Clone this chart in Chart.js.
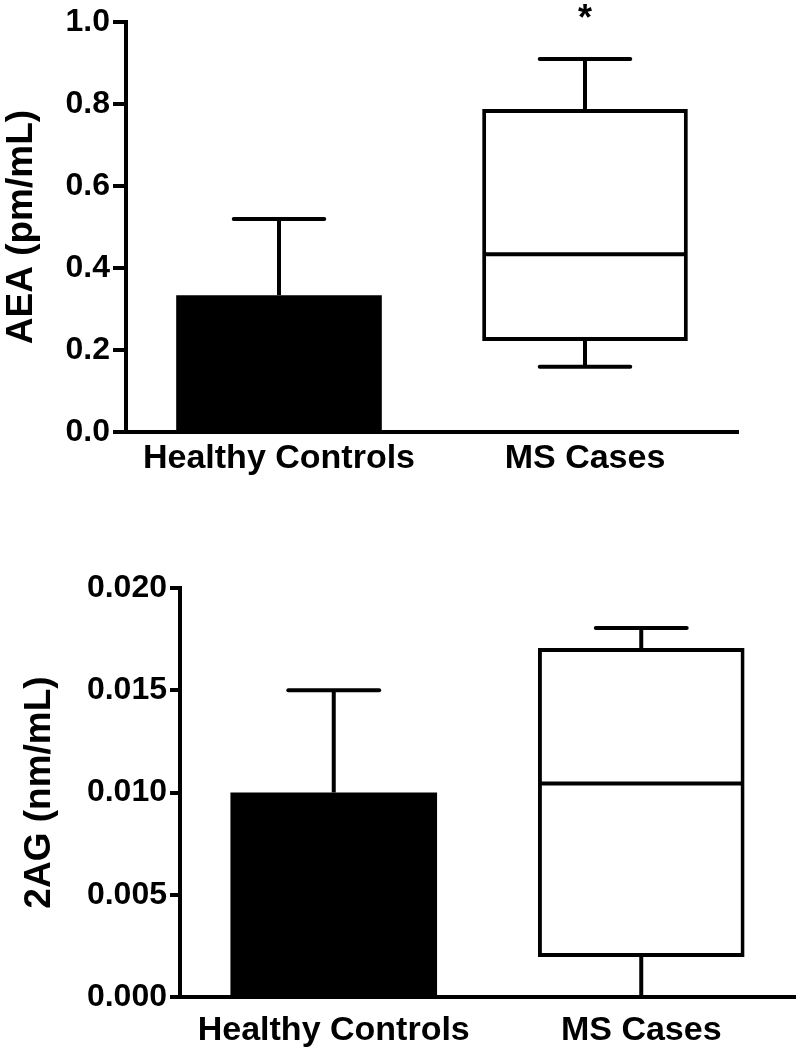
<!DOCTYPE html>
<html>
<head>
<meta charset="utf-8">
<script src="https://cdn.jsdelivr.net/npm/chart.js@4.4.0/dist/chart.umd.min.js"></script>
<style>
  html, body { margin: 0; padding: 0; background: #fff; }
  #wrap { position: relative; width: 796px; height: 1050px; }
  #chartTop { position: absolute; left: 0; top: 0; }
  #chartBottom { position: absolute; left: 0; top: 560px; }
</style>
</head>
<body>
<div id="wrap">
  <canvas id="chartTop" width="796" height="490"></canvas>
  <canvas id="chartBottom" width="796" height="490"></canvas>
</div>
<script>
var categories = ["Healthy Controls", "MS Cases"];

// AEA (pm/mL)
var aeaMean = [0.334, null];
var aeaSd = [0.186, null];
var aeaBox = [null, [0.222, 0.788]];
var aeaMedian = [null, 0.434];
var aeaWhisker = [null, [0.159, 0.91]];
var aeaSig = ["", "*"];
var aeaTicks = ["0.0", "0.2", "0.4", "0.6", "0.8", "1.0"];

// 2AG (nm/mL)
var agMean = [0.010, null];
var agSd = [0.005, null];
var agBox = [null, [0.00196, 0.01706]];
var agMedian = [null, 0.01044];
var agWhisker = [null, [0.0, 0.01804]];
var agSig = ["", ""];
var agTicks = ["0.000", "0.005", "0.010", "0.015", "0.020"];

var fontFamily = "'Liberation Sans', Arial, Helvetica, sans-serif";

function line(ctx, x1, y1, x2, y2) {
  ctx.beginPath();
  ctx.moveTo(x1, y1);
  ctx.lineTo(x2, y2);
  ctx.stroke();
}

// error bar, medians, whiskers and the * marker
var boxExtras = {
  id: "boxExtras",
  afterDatasetsDraw: function (chart, args, opts) {
    var ctx = chart.ctx;
    var y = chart.scales.y;
    var barMeta = chart.getDatasetMeta(0);
    var boxMeta = chart.getDatasetMeta(1);
    ctx.save();
    ctx.strokeStyle = "#000";
    ctx.fillStyle = "#000";
    ctx.lineWidth = opts.lineWidth;

    opts.mean.forEach(function (m, i) {
      if (m === null) return;
      var bar = barMeta.data[i];
      var top = y.getPixelForValue(m + opts.sd[i]);
      var cap = (bar.width * opts.capRatio) / 2;
      ctx.lineCap = "butt";
      line(ctx, bar.x, bar.y, bar.x, top);
      ctx.lineCap = "round";
      line(ctx, bar.x - cap, top, bar.x + cap, top);
    });

    opts.median.forEach(function (med, i) {
      if (med === null) return;
      var box = boxMeta.data[i];
      var half = box.width / 2 - opts.lineWidth / 2;
      var py = y.getPixelForValue(med);
      ctx.lineCap = "butt";
      line(ctx, box.x - half, py, box.x + half, py);

      var w = opts.whisker[i];
      var hi = y.getPixelForValue(w[1]);
      var lo = y.getPixelForValue(w[0]);
      var cap = (box.width * opts.capRatio) / 2;
      line(ctx, box.x, box.y, box.x, hi);
      line(ctx, box.x, box.base, box.x, lo);
      ctx.lineCap = "round";
      line(ctx, box.x - cap, hi, box.x + cap, hi);
      line(ctx, box.x - cap, lo, box.x + cap, lo);

      if (opts.sig[i]) {
        ctx.font = "bold 36px " + fontFamily;
        ctx.textAlign = "center";
        ctx.textBaseline = "alphabetic";
        ctx.fillText(opts.sig[i], box.x, hi - opts.sigOffset);
      }
    });
    ctx.restore();
  },
};

function makeChart(id, cfg) {
  var ctx = document.getElementById(id).getContext("2d");
  return new Chart(ctx, {
    type: "bar",
    data: {
      labels: categories,
      datasets: [
        {
          data: cfg.mean,
          backgroundColor: "#000",
          borderWidth: 0,
          barPercentage: 0.672,
          categoryPercentage: 1.0,
          grouped: false,
        },
        {
          data: cfg.box,
          backgroundColor: "#fff",
          borderColor: "#000",
          borderWidth: 4,
          borderSkipped: false,
          barPercentage: 0.672,
          categoryPercentage: 1.0,
          grouped: false,
        },
      ],
    },
    options: {
      responsive: false,
      animation: false,
      devicePixelRatio: 1,
      layout: {
        padding: { left: 0, top: cfg.padTop, right: cfg.padRight, bottom: 0 },
      },
      plugins: {
        legend: { display: false },
        tooltip: { enabled: false },
        boxExtras: {
          mean: cfg.mean,
          sd: cfg.sd,
          median: cfg.median,
          whisker: cfg.whisker,
          sig: cfg.sig,
          capRatio: 0.44,
          lineWidth: 4,
          sigOffset: 29,
        },
      },
      scales: {
        x: {
          offset: true,
          grid: { display: false, drawTicks: false },
          border: { display: true, color: "#000", width: 4 },
          ticks: {
            color: "#000",
            padding: cfg.xPad,
            maxRotation: 0,
            autoSkip: false,
            font: { family: fontFamily, size: 34, weight: "bold" },
          },
          afterFit: function (s) {
            s.height = cfg.xHeight;
          },
        },
        y: {
          min: 0,
          max: cfg.max,
          ticks: {
            stepSize: cfg.step,
            color: "#000",
            padding: 3,
            font: { family: fontFamily, size: 32, weight: "bold" },
            callback: function (v, i) {
              return cfg.ticks[i];
            },
          },
          grid: {
            drawOnChartArea: false,
            drawTicks: true,
            tickLength: cfg.tickLen,
            color: "#000",
            lineWidth: 4,
          },
          border: { display: true, color: "#000", width: 4 },
          title: {
            display: true,
            text: cfg.title,
            color: "#000",
            padding: { top: cfg.titlePad, bottom: 0 },
            font: { family: fontFamily, size: 37, weight: "bold" },
          },
          afterFit: function (s) {
            s.width = cfg.yWidth;
          },
        },
      },
    },
    plugins: [boxExtras],
  });
}

makeChart("chartTop", {
  mean: aeaMean,
  sd: aeaSd,
  box: aeaBox,
  median: aeaMedian,
  whisker: aeaWhisker,
  sig: aeaSig,
  ticks: aeaTicks,
  max: 1.0,
  step: 0.2,
  title: "AEA (pm/mL)",
  padTop: 22,
  padRight: 58,
  xHeight: 58,
  xPad: 6,
  yWidth: 126,
  tickLen: 13,
  titlePad: 0,
});

makeChart("chartBottom", {
  mean: agMean,
  sd: agSd,
  box: agBox,
  median: agMedian,
  whisker: agWhisker,
  sig: agSig,
  ticks: agTicks,
  max: 0.02,
  step: 0.005,
  title: "2AG (nm/mL)",
  padTop: 28,
  padRight: 1,
  xHeight: 53,
  xPad: 13,
  yWidth: 180,
  tickLen: 10,
  titlePad: 18,
});
</script>
</body>
</html>
